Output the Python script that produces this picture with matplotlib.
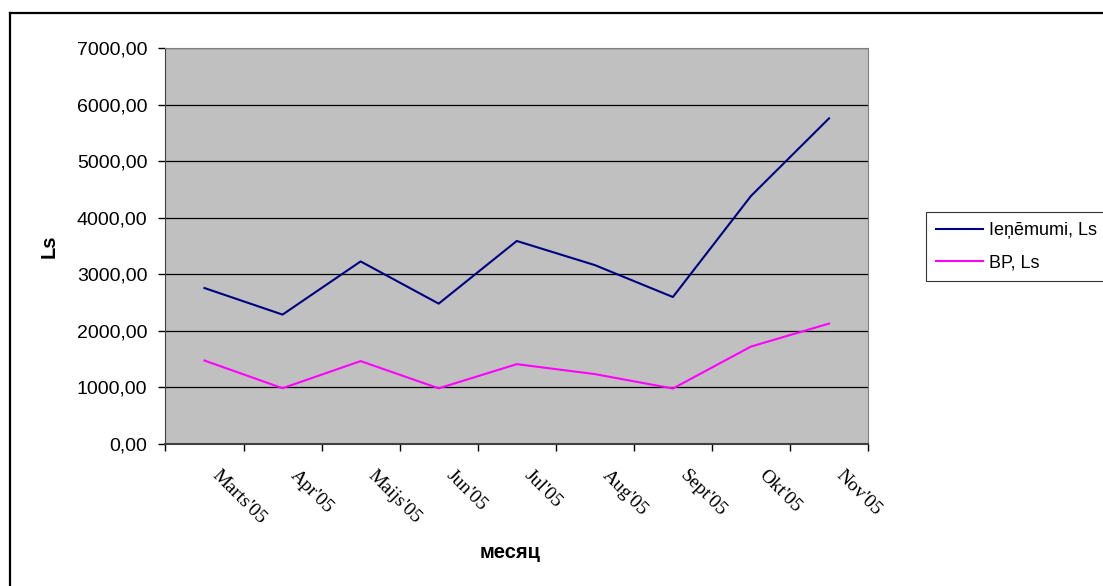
import matplotlib.pyplot as plt
import matplotlib.transforms as mtransforms
from matplotlib.lines import Line2D
from matplotlib.ticker import FuncFormatter, MultipleLocator

menesi = ["Marts'05", "Apr'05", "Maijs'05", "Jun'05", "Jul'05",
          "Aug'05", "Sept'05", "Okt'05", "Nov'05"]
ienemumi = [2753, 2283, 3224, 2477, 3586, 3159, 2594, 4382, 5756]
bp = [1470, 980, 1460, 978, 1406, 1230, 975, 1717, 2124]

plt.rcParams['font.family'] = ['Liberation Sans', 'DejaVu Sans']

W, H = 1103, 586
fig = plt.figure(figsize=(W / 100, H / 100), dpi=100)
# outer chart frame: only top and left edges show in the picture
fig.add_artist(Line2D([10 / W, 1], [1 - 13 / H, 1 - 13 / H], transform=fig.transFigure,
                      color="black", linewidth=1.6))
fig.add_artist(Line2D([10 / W, 10 / W], [0, 1 - 13 / H], transform=fig.transFigure,
                      color="black", linewidth=1.6))

ax = fig.add_axes([0.150, 0.243, 0.637, 0.675])
ax.set_facecolor("#C0C0C0")

x = list(range(len(menesi)))
ax.plot(x, ienemumi, color="#000080", linewidth=1.5, label="Ieņēmumi, Ls")
ax.plot(x, bp, color="#FF00FF", linewidth=1.5, label="BP, Ls")

ax.set_xlim(-0.5, len(menesi) - 0.5)
ax.set_ylim(0, 7000)
ax.yaxis.set_major_locator(MultipleLocator(1000))
ax.yaxis.set_major_formatter(FuncFormatter(lambda v, p: f"{v:.2f}".replace(".", ",")))
ax.grid(axis="y", color="black", linewidth=0.9)
ax.set_axisbelow(True)

# tick marks between categories, labels at category centres
ax.set_xticks([i - 0.5 for i in range(len(menesi) + 1)])
ax.set_xticklabels([])
ax.set_xticks(x, minor=True)
ax.set_xticklabels(menesi, minor=True, rotation=-45, ha="left", va="center",
                   rotation_mode="anchor", family="Liberation Serif", fontsize=14)
ax.tick_params(axis="x", which="minor", length=0, pad=21)
ax.tick_params(axis="x", which="major", length=5, width=1)
ax.tick_params(axis="y", length=5, width=1, labelsize=14, pad=8)
shift = mtransforms.ScaledTranslation(0.10, 0, fig.dpi_scale_trans)
for lbl in ax.get_xticklabels(minor=True):
    lbl.set_transform(lbl.get_transform() + shift)

for s in ["top", "right"]:
    ax.spines[s].set_color("#808080")
ax.spines["left"].set_color("#404040")
ax.spines["bottom"].set_color("#404040")
ax.spines["bottom"].set_linewidth(1.5)

ax.set_ylabel("Ls", fontsize=14.5, fontweight="bold")
ax.yaxis.set_label_coords(-0.165, 0.5)
ax.yaxis.label.set_va("center")
ax.set_xlabel("месяц", fontsize=14.5, fontweight="bold")
ax.xaxis.set_label_coords(0.49, -0.276)
ax.xaxis.label.set_va("center")

leg = ax.legend(loc="upper left", bbox_to_anchor=(926 / W, 1 - 212 / H),
                bbox_transform=fig.transFigure, fontsize=13, frameon=True,
                fancybox=False, edgecolor="black", handlelength=2.6,
                handletextpad=0.35, borderpad=0.55, labelspacing=0.85,
                borderaxespad=0)
leg.get_frame().set_linewidth(0.8)

fig.savefig("out.png", dpi=100)
